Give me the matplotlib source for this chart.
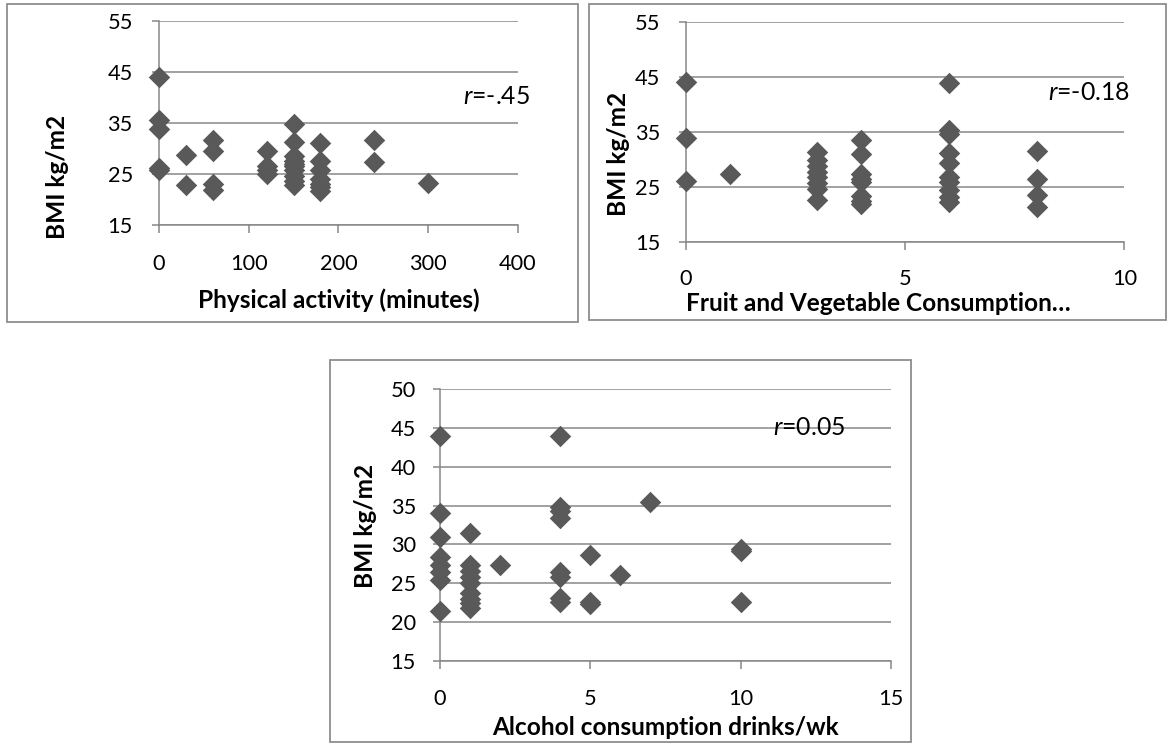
import matplotlib
matplotlib.use("Agg")
import matplotlib.pyplot as plt
from matplotlib.patches import Rectangle

# ---------------- data ----------------
pa_minutes = [0, 0, 0, 0, 0,
              30, 30,
              60, 60, 60, 60,
              120, 120, 120, 120,
              150, 150, 150, 150, 150, 150, 150, 150, 150, 150,
              180, 180, 180, 180, 180, 180, 180,
              240, 240,
              300]
pa_bmi = [44.0, 35.6, 33.7, 25.8, 26.2,
          28.7, 22.7,
          31.7, 29.4, 22.9, 21.9,
          29.4, 26.6, 25.7, 24.9,
          34.8, 31.2, 28.5, 27.5, 27.0, 26.5, 25.8, 24.5, 23.5, 22.7,
          31.0, 27.5, 25.7, 24.0, 23.0, 22.3, 21.6,
          31.6, 27.2,
          23.1]

fv_servings = [0, 0, 0,
               1,
               3, 3, 3, 3, 3, 3, 3, 3,
               4, 4, 4, 4, 4, 4, 4, 4,
               6, 6, 6, 6, 6, 6, 6, 6, 6, 6,
               8, 8, 8, 8]
fv_bmi = [44.1, 34.0, 26.1,
          27.4,
          31.5, 30.0, 28.8, 27.8, 26.8, 25.8, 24.6, 22.7,
          33.6, 31.0, 27.5, 26.5, 26.0, 23.4, 22.5, 21.9,
          44.0, 35.4, 34.6, 31.2, 29.4, 26.9, 26.0, 24.5, 23.3, 22.4,
          31.6, 26.5, 23.6, 21.4]

alc_drinks = [0, 0, 0, 0, 0, 0, 0, 0,
              1, 1, 1, 1, 1, 1, 1, 1, 1,
              2,
              4, 4, 4, 4, 4, 4, 4, 4,
              5, 5, 5,
              6,
              7,
              10, 10, 10]
alc_bmi = [44.0, 34.0, 31.0, 28.4, 27.4, 26.5, 25.4, 21.4,
           31.5, 27.3, 26.6, 25.8, 25.0, 23.7, 23.0, 22.4, 21.8,
           27.4,
           44.0, 34.8, 34.3, 33.4, 26.5, 25.8, 23.1, 22.6,
           28.7, 22.6, 22.3,
           26.1,
           35.4,
           29.4, 29.1, 22.6]

r_labels = ["-.45", "-0.18", "0.05"]
x_labels = ["Physical activity (minutes)",
            "Fruit and Vegetable Consumption\u2026",
            "Alcohol consumption drinks/wk"]
y_label = "BMI kg/m2"

# ---------------- style ----------------
W, H = 1172, 744
FONT = "Lato"
plt.rcParams['font.family'] = [FONT, 'DejaVu Sans']
plt.rcParams['mathtext.fontset'] = 'custom'
plt.rcParams['mathtext.it'] = FONT + ':italic'
plt.rcParams['mathtext.rm'] = FONT
MARK = "#595959"
GRID = "#878787"
BOX = "#8e8e8e"

fig = plt.figure(figsize=(W / 100, H / 100), dpi=100)
renderer = fig.canvas.get_renderer()


def fit_size(text, target_px, weight='normal', base=20.0):
    t = fig.text(0, 0, text, fontsize=base, fontweight=weight)
    w = t.get_window_extent(renderer).width
    t.remove()
    return base * target_px / w


TICK_FS = (fit_size("100", 38) + fit_size("55", 25) + fit_size("400", 38)) / 3
LAB_FS = (fit_size(x_labels[0], 287, 'bold') + fit_size(x_labels[2], 350, 'bold')
          + fit_size(y_label, 119, 'bold')) / 3
R_FS = (fit_size(r"$\mathit{r}$=-.45", 64) + fit_size(r"$\mathit{r}$=-0.18", 85)
        + fit_size(r"$\mathit{r}$=0.05", 72)) / 3


def px_axes(x0, y0, x1, y1):
    return fig.add_axes([x0 / W, 1 - y1 / H, (x1 - x0) / W, (y1 - y0) / H])


def px_box(x0, y0, x1, y1):
    fig.add_artist(Rectangle((x0 / W, 1 - y1 / H), (x1 - x0) / W, (y1 - y0) / H,
                             transform=fig.transFigure, fill=False,
                             ec=BOX, lw=1.3))


def style(ax, xs, ys, xlim, xstep, ylim, ystep, xlab, ylab_pos, xlab_pos, rtxt, rpos,
          ypad, xpad):
    ax.scatter(xs, ys, marker='D', s=120, color=MARK, zorder=3, clip_on=False,
               linewidths=0)
    ax.set_xlim(*xlim)
    ax.set_ylim(*ylim)
    ax.set_xticks(range(xlim[0], xlim[1] + 1, xstep))
    ax.set_yticks(range(ylim[0], ylim[1] + 1, ystep))
    ax.grid(axis='y', color=GRID, lw=1.1)
    ax.grid(axis='x', visible=False)
    ax.set_axisbelow(True)
    for s in ('top', 'right'):
        ax.spines[s].set_visible(False)
    for s in ('left', 'bottom'):
        ax.spines[s].set_color(GRID)
        ax.spines[s].set_linewidth(1.1)
    ax.tick_params(axis='y', direction='out', length=5.3, width=1.1, color=GRID,
                   labelsize=TICK_FS, pad=ypad, labelcolor='black')
    ax.tick_params(axis='x', direction='out', length=6, width=1.1, color=GRID,
                   labelsize=TICK_FS, pad=xpad, labelcolor='black')
    ax.set_facecolor('none')
    ax.set_xlabel(xlab, fontsize=LAB_FS, fontweight='bold')
    ax.xaxis.label.set_va('center')
    ax.xaxis.set_label_coords(*xlab_pos)
    ax.set_ylabel(y_label, fontsize=LAB_FS, fontweight='bold')
    ax.yaxis.label.set_va('center')
    ax.yaxis.set_label_coords(*ylab_pos)
    ax.text(rpos[0], rpos[1], r"$\mathit{r}$=" + rtxt, transform=ax.transAxes,
            fontsize=R_FS, ha='left', va='center')


# boxes
px_box(7, 4, 578, 322)
px_box(589, 4, 1166, 320)
px_box(330, 360, 911, 742)

ax1 = px_axes(159, 20.7, 517.7, 224.7)
style(ax1, pa_minutes, pa_bmi, (0, 400), 100, (15, 55), 10, x_labels[0],
      (-0.2816, 0.234), (0.5, -0.369), r_labels[0], (0.8475, 0.626), 13.5, 15)

ax2 = px_axes(686, 22.3, 1124.3, 242.3)
style(ax2, fv_servings, fv_bmi, (0, 10), 5, (15, 55), 10, x_labels[1],
      (-0.155, 0.401), (0.438, -0.276), r_labels[1], (0.826, 0.679), 13.2, 13)

ax3 = px_axes(440, 389, 891, 661)
style(ax3, alc_drinks, alc_bmi, (0, 15), 5, (15, 50), 5, x_labels[2],
      (-0.166, 0.496), (0.5, -0.243), r_labels[2], (0.738, 0.857), 12, 14)

fig.savefig("out.png", dpi=100, facecolor='white')
